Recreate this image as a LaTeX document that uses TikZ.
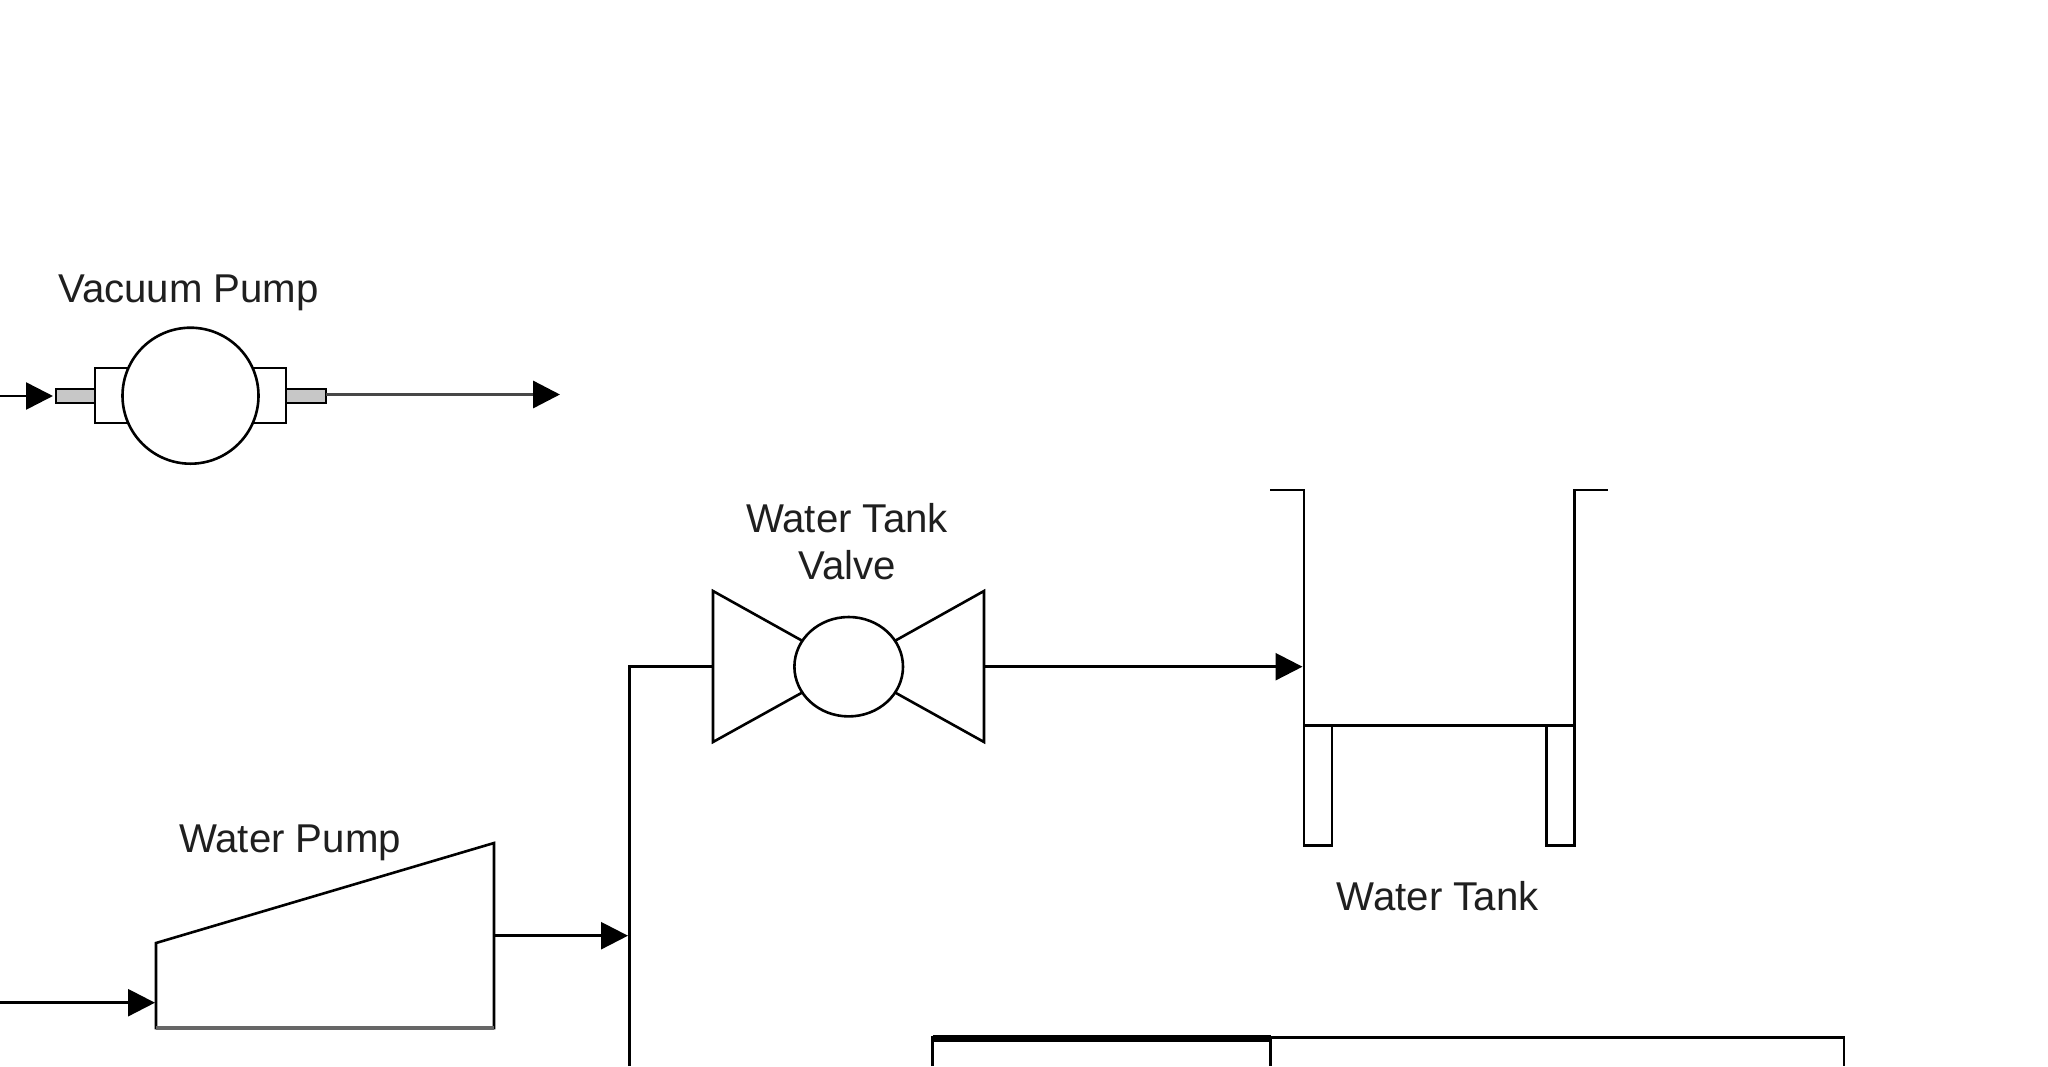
\documentclass[tikz,border=0pt]{standalone}
\usepackage{fontspec}
\setmainfont{Liberation Sans}
\usetikzlibrary{arrows.meta,shapes.geometric}
\tikzset{
  part/.style={draw=black,line width=2.6pt,fill=white,inner sep=0pt,outer sep=0pt},
  wire/.style={draw=black,line width=2.6pt,line join=miter},
  flow/.style={wire,-{Triangle[length=27pt,width=27pt,color=black]}},
  caption/.style={inner sep=0pt,outer sep=0pt,anchor=base,align=center,text=black!88,
    font=\fontsize{40.2}{47}\selectfont},
}
\begin{document}
\begin{tikzpicture}[x=1pt,y=-1pt]
\useasboundingbox (0,0) rectangle (2048,1066);

% Vacuum pump: flanges and stubs sit behind the round body
\node[part,fill=black!22,minimum width=39pt,minimum height=14pt] (vacStubL) at (75.5,396) {};
\node[part,fill=black!22,minimum width=40pt,minimum height=14pt] (vacStubR) at (306,396) {};
\node[part,minimum width=40pt,minimum height=55pt] (vacFlangeL) at (115,395.5) {};
\node[part,minimum width=40pt,minimum height=55pt] (vacFlangeR) at (266,395.5) {};
\node[part,circle,minimum size=136pt] (vacBody) at (190.5,395.7) {};
\node[caption] (vacLabel) at (188.5,302.7) {Vacuum Pump};
\coordinate (vacIn) at (0,396);
\coordinate (vacTip) at (53,396);
\coordinate (vacOut) at (560,394.5);
\draw[flow] (vacIn) -- (vacTip);
\draw[flow,draw=black!72,line width=3.4pt] (vacStubR.east |- vacOut) -- (vacOut);

% Water tank valve: two wedges meeting behind the round bonnet
\coordinate (valveC) at (848.7,666.7);
\coordinate (valveNW) at (713,591);
\coordinate (valveSW) at (713,742);
\coordinate (valveNE) at (984,591);
\coordinate (valveSE) at (984,742);
\coordinate (valveW) at (713,666.7);
\coordinate (valveE) at (984,666.7);
\draw[part] (valveNW) -- (valveC) -- (valveSW) -- cycle;
\draw[part] (valveNE) -- (valveC) -- (valveSE) -- cycle;
\node[part,ellipse,minimum width=108.6pt,minimum height=99.4pt] (valveBody) at (valveC) {};
\node[caption] (valveLabel) at (847,532.7) {Water Tank};
\node[caption] (valveLabelB) at (847,579.3) {Valve};

% Water tank
\coordinate (tankLipL) at (1270,490);
\coordinate (tankTopL) at (1304,490);
\coordinate (tankFloorL) at (1304,725.5);
\coordinate (tankFloorR) at (1574.5,725.5);
\coordinate (tankTopR) at (1574.5,490);
\coordinate (tankLipR) at (1608,490);
\coordinate (tankIn) at (1302.5,666.7);
\node[part,minimum width=28pt,minimum height=120pt] (legL) at (1318,785.6) {};
\node[part,minimum width=28pt,minimum height=120pt] (legR) at (1560.5,785.6) {};
\draw[wire] (tankLipL) -- (tankTopL) -- (tankFloorL) -- (tankFloorR) -- (tankTopR) -- (tankLipR);
\node[caption] (tankLabel) at (1437.6,910.7) {Water Tank};
\draw[flow] (valveE) -- (tankIn);

% Water pump
\coordinate (pumpNW) at (156,943);
\coordinate (pumpNE) at (494,843);
\coordinate (pumpSE) at (494,1028);
\coordinate (pumpSW) at (156,1028);
\coordinate (pumpIn) at (155,1002.7);
\coordinate (pumpFeed) at (0,1002.7);
\coordinate (pumpOut) at (494,935.7);
\coordinate (riserIn) at (628,935.7);
\draw[part] (pumpNW) -- (pumpNE) -- (pumpSE) -- (pumpSW) -- cycle;
\draw[wire,draw=black!60,line width=4.4pt] (pumpSW) -- (pumpSE);
\node[caption] (pumpLabel) at (290,852) {Water Pump};
\draw[flow] (pumpFeed) -- (pumpIn);
\draw[flow] (pumpOut) -- (riserIn);

% Riser from the pump line up to the valve
\coordinate (riserBottom) at (629.5,1066);
\coordinate (riserTop) at (629.5,666.7);
\draw[wire] (riserBottom) -- (riserTop) -- (valveW);

% Panel along the bottom edge, with the heavier rule above its first cell
\coordinate (panelNW) at (932.5,1037.5);
\coordinate (panelNE) at (1844,1037.5);
\coordinate (panelSW) at (932.5,1066);
\coordinate (panelSE) at (1844,1066);
\coordinate (cellTop) at (1270.5,1037.5);
\coordinate (cellBottom) at (1270.5,1066);
\draw[wire] (panelSW) -- (panelNW) -- (panelNE) -- (panelSE);
\draw[wire] (cellTop) -- (cellBottom);
\draw[wire,line width=6.5pt] ([yshift=-1pt]panelNW) -- ([yshift=-1pt]cellTop);
\end{tikzpicture}
\end{document}
